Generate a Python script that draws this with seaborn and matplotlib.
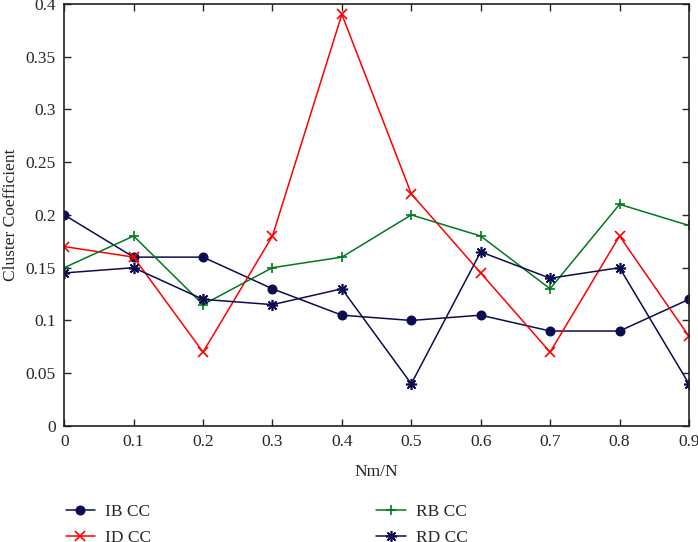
import numpy as np
import pandas as pd
import matplotlib
matplotlib.use('Agg')
import matplotlib.pyplot as plt
import seaborn as sns

nm_ratio = [0, 0.1, 0.2, 0.3, 0.4, 0.5, 0.6, 0.7, 0.8, 0.9]
ib_cc = [0.2, 0.16, 0.16, 0.13, 0.105, 0.1, 0.105, 0.09, 0.09, 0.12]
id_cc = [0.17, 0.16, 0.07, 0.18, 0.39, 0.22, 0.145, 0.07, 0.18, 0.085]
rb_cc = [0.15, 0.18, 0.115, 0.15, 0.16, 0.2, 0.18, 0.13, 0.21, 0.19]
rd_cc = [0.145, 0.15, 0.12, 0.115, 0.13, 0.04, 0.165, 0.14, 0.15, 0.04]
series_names = ['IB CC', 'ID CC', 'RB CC', 'RD CC']

sns.set_style('ticks')
plt.rcParams['font.family'] = ['Liberation Serif', 'DejaVu Serif']
plt.rcParams['xtick.direction'] = 'in'
plt.rcParams['ytick.direction'] = 'in'

df = pd.DataFrame({'x': nm_ratio, 'IB CC': ib_cc, 'ID CC': id_cc,
                   'RB CC': rb_cc, 'RD CC': rd_cc})

fig = plt.figure(figsize=(6.98, 5.42), dpi=100)
ax = fig.add_axes([0.092, 0.214, 0.895, 0.779])

# asterisk marker with 8 arms for RD
styles = {
    'IB CC': dict(color='#0c0c50', marker='o', markersize=6),
    'ID CC': dict(color='#ff0000', marker='x', markersize=7),
    'RB CC': dict(color='#007a1e', marker='+', markersize=7),
    'RD CC': dict(color='#0c0c50', marker=(8, 2, 0), markersize=8),
}
for name in series_names:
    st = styles[name]
    sns.lineplot(data=df, x='x', y=name, ax=ax, label=name, color=st['color'],
                 marker=st['marker'], markersize=st['markersize'], linewidth=1.1,
                 markeredgewidth=1.2, markeredgecolor=st['color'])

ax.set_xlim(0, 0.9)
ax.set_ylim(0, 0.4)
ax.set_xticks(nm_ratio)
ax.set_xticklabels(['0', '0.1', '0.2', '0.3', '0.4', '0.5', '0.6', '0.7', '0.8', '0.9'])
ax.set_yticks([0, 0.05, 0.1, 0.15, 0.2, 0.25, 0.3, 0.35, 0.4])
ax.set_yticklabels(['0', '0.05', '0.1', '0.15', '0.2', '0.25', '0.3', '0.35', '0.4'])
ax.tick_params(top=True, right=True, labelsize=12.5, length=5, width=1, pad=6)
for s in ax.spines.values():
    s.set_linewidth(1.2)
    s.set_color('#222222')
ax.set_xlabel('Nm/N', fontsize=12.5, labelpad=10)
ax.set_ylabel('Cluster Coefficient', fontsize=12.5, labelpad=5)

handles, labels = ax.get_legend_handles_labels()
ax.legend(handles, labels, ncol=2, frameon=False, fontsize=12.5,
          loc='upper left', bbox_to_anchor=(0.0716, 0.1), bbox_transform=fig.transFigure,
          columnspacing=13.0, handlelength=1.7, handletextpad=0.55, labelspacing=0.6)

fig.savefig('out.png', dpi=100)
